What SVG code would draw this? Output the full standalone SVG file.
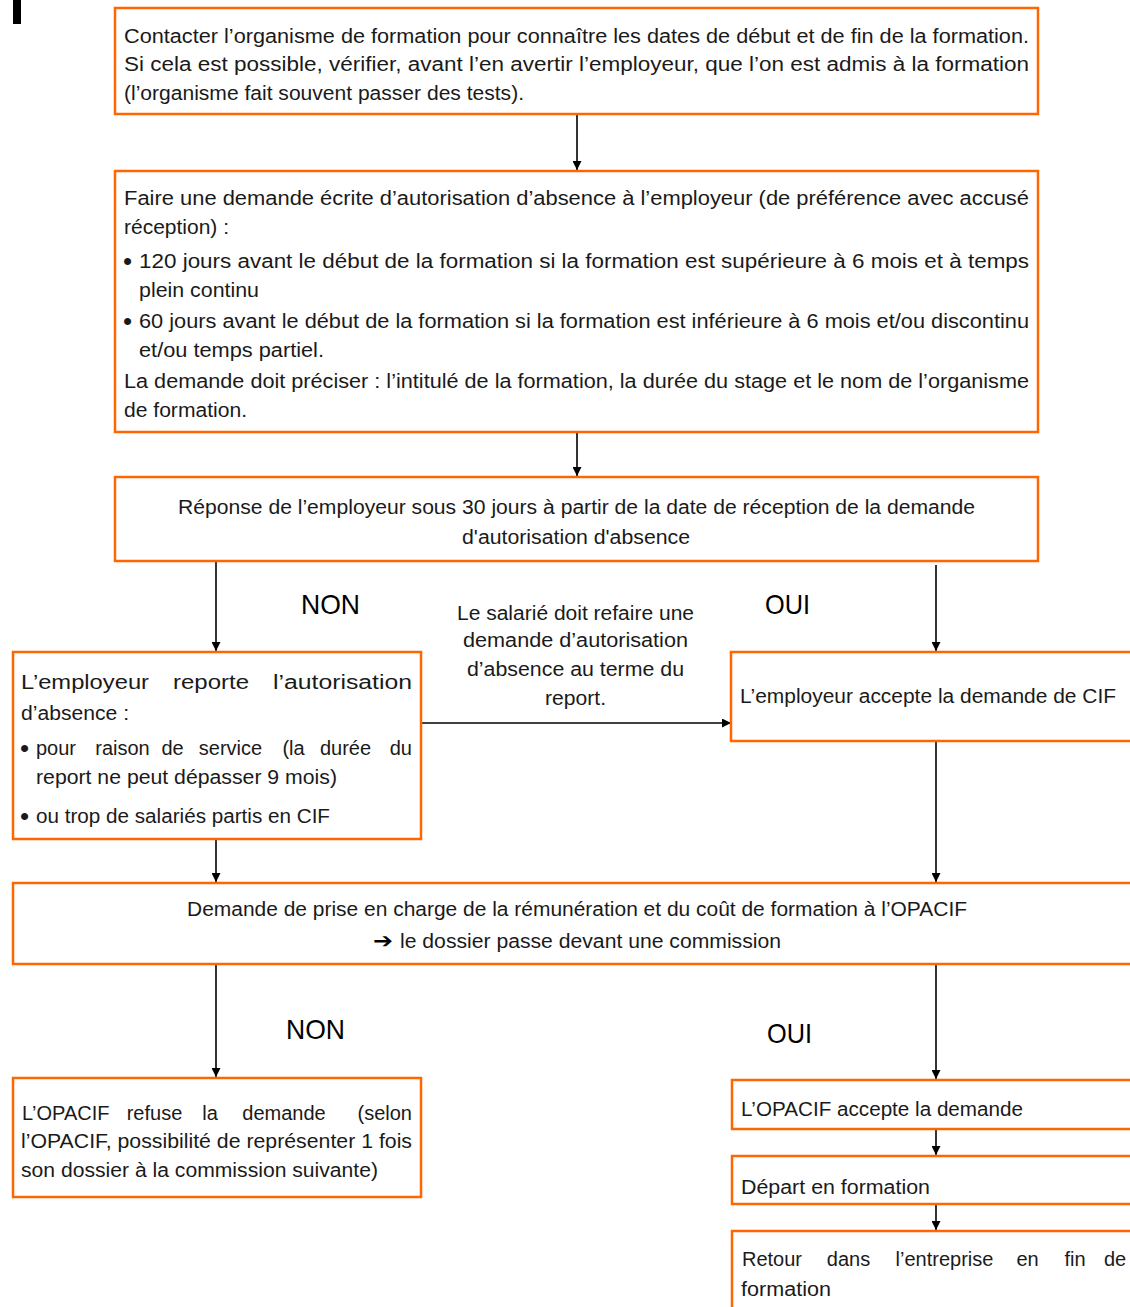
<svg xmlns="http://www.w3.org/2000/svg" width="1130" height="1307" viewBox="0 0 1130 1307">
<style>
.box{fill:#fff;stroke:#FF6600;stroke-width:2.5}
.t{font-family:"Liberation Sans",Arial,sans-serif;font-size:20px;fill:#1a1a1a}
.m{text-anchor:middle}
.e{text-anchor:end}
.big{font-family:"Liberation Sans",Arial,sans-serif;font-size:28px;fill:#000}
.b{font-family:"Liberation Sans",Arial,sans-serif;font-size:26px;fill:#1a1a1a}
.c{stroke:#000;stroke-width:1.6;fill:none;marker-end:url(#ah)}
.sym{font-family:"DejaVu Sans",sans-serif;font-size:21px;font-weight:bold;fill:#000}
</style>
<defs>
<marker id="ah" viewBox="0 0 10 10" refX="10" refY="5" markerWidth="9" markerHeight="9" markerUnits="userSpaceOnUse" orient="auto">
<path d="M0,0 L10,5 L0,10 z" fill="#000"/>
</marker>
</defs>
<rect width="1130" height="1307" fill="#fff"/>
<rect x="13" y="0" width="8" height="24" fill="#000"/>

<g id="connectors">
<line class="c" x1="577" y1="115" x2="577" y2="170"/>
<line class="c" x1="577" y1="433" x2="577" y2="476"/>
<line class="c" x1="216" y1="562" x2="216" y2="651"/>
<line class="c" x1="936" y1="565" x2="936" y2="651"/>
<line class="c" x1="422" y1="723" x2="731" y2="723"/>
<line class="c" x1="216" y1="840" x2="216" y2="882"/>
<line class="c" x1="936" y1="742" x2="936" y2="882"/>
<line class="c" x1="216" y1="965" x2="216" y2="1077"/>
<line class="c" x1="936" y1="965" x2="936" y2="1079"/>
<line class="c" x1="936" y1="1130" x2="936" y2="1155"/>
<line class="c" x1="936" y1="1205" x2="936" y2="1230"/>
</g>

<g id="labels">
<text class="big" x="301" y="614" textLength="59" lengthAdjust="spacingAndGlyphs">NON</text>
<text class="big" x="765" y="614" textLength="45" lengthAdjust="spacingAndGlyphs">OUI</text>
<text class="big" x="286" y="1039" textLength="59" lengthAdjust="spacingAndGlyphs">NON</text>
<text class="big" x="767" y="1043" textLength="45" lengthAdjust="spacingAndGlyphs">OUI</text>
<text class="t" x="457" y="620" textLength="237" lengthAdjust="spacingAndGlyphs">Le salarié doit refaire une</text>
<text class="t" x="463" y="647" textLength="225" lengthAdjust="spacingAndGlyphs">demande d’autorisation</text>
<text class="t" x="467" y="676" textLength="217" lengthAdjust="spacingAndGlyphs">d’absence au terme du</text>
<text class="t" x="545" y="705" textLength="61" lengthAdjust="spacingAndGlyphs">report.</text>
</g>

<g id="n1">
<rect class="box" x="115" y="8" width="923" height="106"/>
<text class="t" x="124" y="43" textLength="905" lengthAdjust="spacingAndGlyphs">Contacter l’organisme de formation pour connaître les dates de début et de fin de la formation.</text>
<text class="t" x="124" y="71" textLength="905" lengthAdjust="spacingAndGlyphs">Si cela est possible, vérifier, avant l’en avertir l’employeur, que l’on est admis à la formation</text>
<text class="t" x="124" y="100" textLength="400" lengthAdjust="spacingAndGlyphs">(l’organisme fait souvent passer des tests).</text>
</g>

<g id="n2">
<rect class="box" x="115" y="171" width="923" height="261"/>
<text class="t" x="124" y="205" textLength="905" lengthAdjust="spacingAndGlyphs">Faire une demande écrite d’autorisation d’absence à l’employeur (de préférence avec accusé</text>
<text class="t" x="124" y="234" textLength="105" lengthAdjust="spacingAndGlyphs">réception) :</text>
<text class="b" x="123" y="270">•</text>
<text class="t" x="139" y="268" textLength="890" lengthAdjust="spacingAndGlyphs">120 jours avant le début de la formation si la formation est supérieure à 6 mois et à temps</text>
<text class="t" x="139" y="297" textLength="120" lengthAdjust="spacingAndGlyphs">plein continu</text>
<text class="b" x="123" y="330">•</text>
<text class="t" x="139" y="328" textLength="890" lengthAdjust="spacingAndGlyphs">60 jours avant le début de la formation si la formation est inférieure à 6 mois et/ou discontinu</text>
<text class="t" x="139" y="357" textLength="185" lengthAdjust="spacingAndGlyphs">et/ou temps partiel.</text>
<text class="t" x="124" y="388" textLength="905" lengthAdjust="spacingAndGlyphs">La demande doit préciser : l’intitulé de la formation, la durée du stage et le nom de l’organisme</text>
<text class="t" x="124" y="417" textLength="123" lengthAdjust="spacingAndGlyphs">de formation.</text>
</g>

<g id="n3">
<rect class="box" x="115" y="477" width="923" height="84"/>
<text class="t" x="178" y="514" textLength="797" lengthAdjust="spacingAndGlyphs">Réponse de l’employeur sous 30 jours à partir de la date de réception de la demande</text>
<text class="t" x="462" y="544" textLength="228" lengthAdjust="spacingAndGlyphs">d'autorisation d'absence</text>
</g>

<g id="n4">
<rect class="box" x="13" y="652" width="408" height="187"/>
<text class="t" x="21" y="689" textLength="128" lengthAdjust="spacingAndGlyphs">L’employeur</text>
<text class="t" x="173" y="689" textLength="76" lengthAdjust="spacingAndGlyphs">reporte</text>
<text class="t" x="273" y="689" textLength="139" lengthAdjust="spacingAndGlyphs">l’autorisation</text>
<text class="t" x="21" y="720" textLength="108" lengthAdjust="spacingAndGlyphs">d’absence :</text>
<text class="b" x="20" y="757">•</text>
<text class="t" x="36" y="755">pour</text>
<text class="t m" x="122.5" y="755">raison</text>
<text class="t m" x="172.5" y="755">de</text>
<text class="t m" x="230.5" y="755">service</text>
<text class="t m" x="293.5" y="755">(la</text>
<text class="t m" x="345.5" y="755">durée</text>
<text class="t e" x="412" y="755">du</text>
<text class="t" x="36" y="784" textLength="301" lengthAdjust="spacingAndGlyphs">report ne peut dépasser 9 mois)</text>
<text class="b" x="20" y="825">•</text>
<text class="t" x="36" y="823" textLength="294" lengthAdjust="spacingAndGlyphs">ou trop de salariés partis en CIF</text>
</g>

<g id="n5">
<rect class="box" x="731" y="652" width="410" height="89"/>
<text class="t" x="740" y="703" textLength="376" lengthAdjust="spacingAndGlyphs">L’employeur accepte la demande de CIF</text>
</g>

<g id="n6">
<rect class="box" x="13" y="883" width="1130" height="81"/>
<text class="t" x="187" y="916" textLength="780" lengthAdjust="spacingAndGlyphs">Demande de prise en charge de la rémunération et du coût de formation à l’OPACIF</text>
<text class="sym" x="373" y="948" textLength="20" lengthAdjust="spacingAndGlyphs">➔</text>
<text class="t" x="400" y="948" textLength="381" lengthAdjust="spacingAndGlyphs">le dossier passe devant une commission</text>
</g>

<g id="n7">
<rect class="box" x="13" y="1078" width="408" height="119"/>
<text class="t" x="22" y="1120">L’OPACIF</text>
<text class="t m" x="154.5" y="1120">refuse</text>
<text class="t m" x="210" y="1120">la</text>
<text class="t m" x="284" y="1120">demande</text>
<text class="t e" x="412" y="1120">(selon</text>
<text class="t" x="21" y="1148" textLength="391" lengthAdjust="spacingAndGlyphs">l’OPACIF, possibilité de représenter 1 fois</text>
<text class="t" x="21" y="1177" textLength="357" lengthAdjust="spacingAndGlyphs">son dossier à la commission suivante)</text>
</g>

<g id="n8">
<rect class="box" x="732" y="1080" width="410" height="49"/>
<text class="t" x="741" y="1116" textLength="282" lengthAdjust="spacingAndGlyphs">L’OPACIF accepte la demande</text>
</g>

<g id="n9">
<rect class="box" x="732" y="1156" width="410" height="48"/>
<text class="t" x="741" y="1194" textLength="189" lengthAdjust="spacingAndGlyphs">Départ en formation</text>
</g>

<g id="n10">
<rect class="box" x="732" y="1231" width="410" height="90"/>
<text class="t" x="742" y="1266">Retour</text>
<text class="t m" x="848.5" y="1266">dans</text>
<text class="t m" x="944.5" y="1266">l’entreprise</text>
<text class="t m" x="1027.5" y="1266">en</text>
<text class="t m" x="1075" y="1266">fin</text>
<text class="t" x="1104" y="1266">de</text>
<text class="t" x="741" y="1296" textLength="90" lengthAdjust="spacingAndGlyphs">formation</text>
</g>
</svg>
